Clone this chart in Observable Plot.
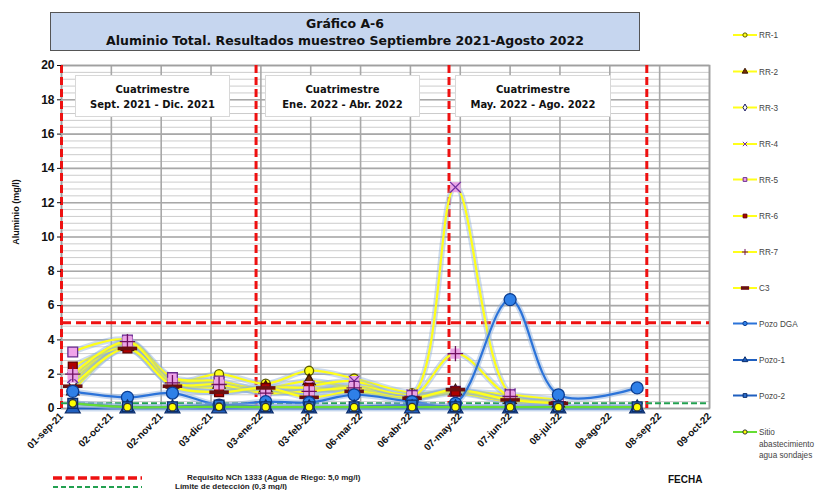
<!DOCTYPE html>
<html><head><meta charset="utf-8">
<script src="https://cdn.jsdelivr.net/npm/d3@7"></script>
<script src="https://cdn.jsdelivr.net/npm/@observablehq/plot@0.6"></script>
<style>
body{margin:0;background:#fff;}
#wrap{position:relative;width:818px;height:490px;overflow:hidden;font-family:"Liberation Sans",Arial,sans-serif;}
#wrap svg{position:absolute;left:0;top:0;}
.box{position:absolute;box-sizing:border-box;text-align:center;font-family:"DejaVu Sans",Verdana,sans-serif;font-weight:bold;color:#111;}
#title{left:50px;top:12px;width:590px;height:39px;background:#c6d6ef;border:1.5px solid #555;font-size:12.5px;line-height:17px;padding-top:2px;}
.cuat{top:75px;height:42px;background:#fff;border:1px solid #d8d8d8;font-size:10px;line-height:15px;padding-top:6px;}
</style></head><body><div id="wrap"></div>
<script>
// ---- data ----
const sampleDates = ["2021-09-08","2021-10-12","2021-11-09","2021-12-08","2022-01-06","2022-02-02","2022-03-02","2022-04-07","2022-05-04","2022-06-07","2022-07-07","2022-08-25"];
const rr1   = [1.2, 3.8, 1.6, 2.0, 1.45, 2.2, 1.75, 0.9, 1.0, 0.4, 0.3, null];
const rr2   = [1.0, 3.6, 1.4, 1.4, 1.2, 1.6, 1.2, 0.7, 1.0, 0.5, 0.3, null];
const rr3   = [1.5, 3.9, 1.5, 1.2, 1.0, 1.0, 1.1, 0.6, 0.9, 0.4, 0.3, null];
const rr4   = [1.8, 3.8, 1.7, 1.5, 0.9, 1.3, 1.6, 0.8, 12.9, 0.85, 0.5, null];
const rr5   = [3.3, 4.0, 1.8, 1.6, 1.0, 1.0, 1.3, 0.75, 1.0, 0.8, 0.5, null];
const rr6   = [2.45, 3.5, 1.35, 0.95, 1.2, 1.2, 1.0, 0.6, 1.0, 0.55, 0.3, null];
const rr7   = [2.0, 3.9, 1.5, 1.4, 0.9, 1.0, 1.2, 0.7, 3.2, 0.7, 0.4, null];
const c3    = [1.3, 3.5, 1.3, 0.95, 1.2, 0.65, 1.0, 0.6, 1.1, 0.5, 0.3, null];
const pozoDGA = [1.0, 0.65, 0.9, 0.2, 0.4, 0.35, 0.8, 0.4, 0.3, 6.35, 0.8, 1.2];
const pozo1 = [0, 0, 0, 0, 0, 0, 0, 0, 0, 0, 0, 0];
const pozo2 = [0.3, 0.1, 0.1, 0.2, 0.1, 0.1, 0.1, 0.2, 0.1, 0.1, 0.1, 0.1];
const sitio = [0.3, 0.08, 0.08, 0.1, 0.08, 0.08, 0.08, 0.08, 0.08, 0.08, 0.08, 0.08];
const seriesNames = ["RR-1","RR-2","RR-3","RR-4","RR-5","RR-6","RR-7","C3","Pozo DGA","Pozo-1","Pozo-2","Sitio abastecimiento agua sondajes"];
const periodLines = ["2021-09-01","2021-12-31","2022-04-30","2022-08-31"];
const requisito = 5.0;
const limite = 0.3;
const yTicks = [0,2,4,6,8,10,12,14,16,18,20];
const monthsEs = ["ene","feb","mar","abr","may","jun","jul","ago","sep","oct","nov","dic"];
const cuatrimestres = [
  {l1:"Cuatrimestre", l2:"Sept. 2021 - Dic. 2021"},
  {l1:"Cuatrimestre", l2:"Ene. 2022 - Abr. 2022"},
  {l1:"Cuatrimestre", l2:"May. 2022 - Ago. 2022"}
];

// ---- build ----
const parse = d3.utcParse("%Y-%m-%d");
const dates = sampleDates.map(parse);
const start = parse("2021-09-01"), end = parse("2022-10-09");
const tickDates = d3.range(0, 14).map(i => new Date(+start + i * 31 * 864e5));
const fmt = d => `${String(d.getUTCDate()).padStart(2,"0")}-${monthsEs[d.getUTCMonth()]}-${String(d.getUTCFullYear()).slice(2)}`;

const dash = {draw(ctx, size){ const w = Math.sqrt(size) * 1.1, h = 1.8; ctx.moveTo(-w,-h); ctx.lineTo(w,-h); ctx.lineTo(w,h); ctx.lineTo(-w,h); ctx.closePath(); }};

const yellow = "#ffff1a", blue = "#2b73d9", green = "#66dd33";
const series = [
  {values:rr1, line:yellow, marks:[{symbol:"circle", fill:yellow, stroke:"#5a5a00", r:4.5}]},
  {values:rr2, line:yellow, marks:[{symbol:"triangle", fill:"#7a2e00", stroke:"#3a1600", r:4.5}]},
  {values:rr3, line:yellow, marks:[{symbol:"diamond", fill:"#ffffff", stroke:"#1a1a60", r:4}]},
  {values:rr4, line:yellow, marks:[{symbol:"square", fill:"#eaa4e6", stroke:"#eaa4e6", r:5},{symbol:"times", fill:"none", stroke:"#7030a0", r:5}]},
  {values:rr5, line:yellow, marks:[{symbol:"square", fill:"#f0a4ea", stroke:"#6a2a90", r:5.5}]},
  {values:rr6, line:yellow, marks:[{symbol:"square", fill:"#b00000", stroke:"#600000", r:5}]},
  {values:rr7, line:yellow, marks:[{symbol:"square", fill:"#eaa4e6", stroke:"#eaa4e6", r:5},{symbol:"plus", fill:"none", stroke:"#701060", r:5}]},
  {values:c3, line:yellow, marks:[{symbol:dash, fill:"#6a1010", stroke:"none", r:5}]},
  {values:pozoDGA, line:blue, marks:[{symbol:"circle", fill:"#2f80e8", stroke:"#0b3d91", r:6}]},
  {values:pozo1, line:"#1f5fbf", marks:[{symbol:"triangle", fill:"#1f5fbf", stroke:"#0b2d6b", r:5.5}]},
  {values:pozo2, line:"#1f5fbf", marks:[{symbol:"square", fill:"#2a6fd0", stroke:"#0b2d6b", r:5.5}]},
  {values:sitio, line:green, marks:[{symbol:"circle", fill:"#ffff00", stroke:"#333333", r:3.8}]}
];
series.forEach((s,i) => {
  s.name = seriesNames[i];
  s.rows = s.values.map((v,j) => ({series:s.name, date:dates[j], value:v})).filter(d => d.value != null);
});

const marks = [
  Plot.gridY(d3.range(0, 20.01, 0.4), {stroke:"#cccccc", strokeOpacity:1, strokeWidth:1}),
  Plot.gridY(yTicks, {stroke:"#a8a8a8", strokeOpacity:1, strokeWidth:1.6}),
  Plot.gridX(tickDates, {stroke:"#a8a8a8", strokeOpacity:1, strokeWidth:1.6}),
  Plot.frame({stroke:"#a0a0a0", strokeWidth:1.6}),
  Plot.ruleY([requisito], {stroke:"#ee1111", strokeWidth:3, strokeDasharray:"10,5"}),
  Plot.ruleX(periodLines.map(parse), {stroke:"#ee1111", strokeWidth:3, strokeDasharray:"8,4"}),
  Plot.ruleY([limite], {stroke:"#22a050", strokeWidth:2, strokeDasharray:"6,3", x1:start, x2:end}),
  Plot.axisY({ticks:yTicks, tickSize:4, tickPadding:3, label:null, fontSize:12, fontWeight:"bold", fontFamily:"Liberation Sans, Arial, sans-serif"}),
  Plot.axisX({ticks:tickDates, tickFormat:fmt, tickRotate:-45, tickSize:0, tickPadding:6, label:null, fontSize:10, fontWeight:"bold", fontFamily:"Liberation Sans, Arial, sans-serif"})
];
series.forEach(s => {
  marks.push(Plot.line(s.rows, {x:"date", y:"value", stroke:"#8fb0dc", strokeWidth:6, strokeOpacity:0.45, curve:"catmull-rom"}));
  marks.push(Plot.line(s.rows, {x:"date", y:"value", stroke:s.line, strokeWidth:2.2, curve:"catmull-rom"}));
});
series.forEach(s => {
  s.marks.forEach(m => marks.push(Plot.dot(s.rows, {x:"date", y:"value", symbol:()=>m.symbol, fill:m.fill, stroke:m.stroke, strokeWidth:1.3, r:m.r})));
});

const chart = Plot.plot({
  width:818, height:490,
  marginLeft:61, marginRight:109, marginTop:65, marginBottom:82,
  x:{type:"utc", domain:[start, end]},
  y:{domain:[0,20]},
  symbol:{type:"identity"},
  style:{background:"transparent", color:"#111"},
  marks
});
const wrap = document.getElementById("wrap");
wrap.appendChild(chart);

// title
const t = document.createElement("div");
t.id = "title"; t.className = "box";
t.innerHTML = "Gráfico A-6<br>Aluminio Total. Resultados muestreo Septiembre 2021-Agosto 2022";
wrap.appendChild(t);
// cuatrimestre boxes
[[75,155],[265,155],[455,156]].forEach(([l,w],i) => {
  const b = document.createElement("div");
  b.className = "box cuat";
  b.style.left = l + "px"; b.style.width = w + "px";
  b.innerHTML = cuatrimestres[i].l1 + "<br>" + cuatrimestres[i].l2;
  wrap.appendChild(b);
});

// legends and labels
const svg = d3.select(chart);
const ff = "Liberation Sans, Arial, sans-serif";
svg.append("text").attr("transform","translate(19,212) rotate(-90)").attr("text-anchor","middle")
  .attr("font-family",ff).attr("font-weight","bold").attr("font-size",9).attr("fill","#111").text("Aluminio (mg/l)");
svg.append("text").attr("x",668).attr("y",483).attr("text-anchor","start").attr("font-family",ff).attr("font-weight","bold").attr("font-size",10).attr("fill","#111").text("FECHA");
svg.append("line").attr("x1",53).attr("x2",142).attr("y1",478).attr("y2",478).attr("stroke","#ee1111").attr("stroke-width",3.5).attr("stroke-dasharray","9,3.5");
svg.append("line").attr("x1",53).attr("x2",142).attr("y1",487).attr("y2",487).attr("stroke","#22a050").attr("stroke-width",2).attr("stroke-dasharray","5,3");
svg.append("text").attr("x",187).attr("y",480).attr("text-anchor","start").attr("font-family",ff).attr("font-weight","bold").attr("font-size",8).attr("fill","#222").text("Requisito NCh 1333 (Agua de Riego: 5,0 mg/l)");
svg.append("text").attr("x",175).attr("y",489).attr("text-anchor","start").attr("font-family",ff).attr("font-weight","bold").attr("font-size",8).attr("fill","#222").text("Límite de detección (0,3 mg/l)");

const d3sym = {circle:d3.symbolCircle, triangle:d3.symbolTriangle, diamond:d3.symbolDiamond, square:d3.symbolSquare, times:d3.symbolTimes, plus:d3.symbolPlus};
const legY = [35,71.5,107.5,144,179.5,216,252,288,323.5,360,395.5,432];
series.forEach((s,i) => {
  const g = svg.append("g").attr("transform",`translate(0,${legY[i]})`);
  g.append("line").attr("x1",733).attr("x2",757).attr("y1",0).attr("y2",0).attr("stroke",s.line).attr("stroke-width",2);
  const m = s.marks[s.marks.length-1];
  const sy = typeof m.symbol === "string" ? d3sym[m.symbol] : m.symbol;
  g.append("path").attr("transform","translate(745,0)").attr("d", d3.symbol(sy, 14)())
    .attr("fill", m.fill === "none" ? "none" : m.fill).attr("stroke", m.stroke === "none" ? "none" : m.stroke).attr("stroke-width",1);
  const words = i === 11 ? ["Sitio","abastecimiento","agua sondajes"] : [s.name];
  words.forEach((w,k) => g.append("text").attr("x",759).attr("y",3 + k*11.5).attr("text-anchor","start").attr("font-family",ff).attr("font-size",8.2).attr("fill","#444").text(w));
});
</script>
</body></html>
